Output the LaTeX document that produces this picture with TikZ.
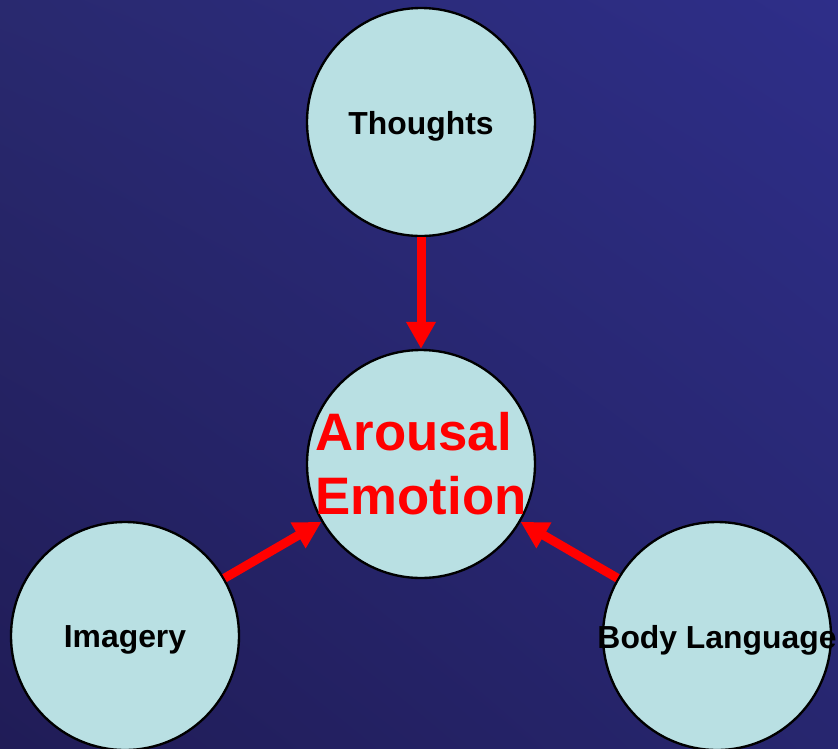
\documentclass[tikz,border=0pt]{standalone}
\usepackage{fontspec}
\setmainfont{Liberation Sans}
\usetikzlibrary{arrows.meta,positioning,shadings}

\definecolor{bgul}{HTML}{29296F}
\definecolor{bgur}{HTML}{2E2E89}
\definecolor{bgll}{HTML}{201C57}
\definecolor{bglr}{HTML}{27266F}
\definecolor{bubblefill}{HTML}{B9E0E3}

\begin{document}
\begin{tikzpicture}[
    x=0.03cm, y=-0.03cm,
    every node/.style={font=\fontsize{27.2}{30}\selectfont\bfseries},
    every label/.style={yshift=-0.12cm},
    bubble/.style={draw=black, circle, line width=2pt, fill=bubblefill, minimum size=6.84cm, inner sep=0pt},
    big/.style={font=\fontsize{45}{54.4}\selectfont\bfseries, text=red, align=left, yshift=0.12cm},
    arr/.style={-{Triangle[length=0.81cm, width=0.84cm]}, red, line width=0.27cm}
]

% Background
\shade[upper left=bgul, upper right=bgur, lower left=bgll, lower right=bglr]
    (0,0) rectangle (838,748);
\useasboundingbox (0,0) rectangle (838,748);

% Circles
\node[bubble, label={center:Thoughts}] (thoughts) at (421,122) {};
\node[bubble, label={[big]center:Arousal\\Emotion}] (arousal) at (421,464) {};
\node[bubble, label={center:Imagery}] (imagery) at (125,636) {};
\node[bubble, label={center:Body Language}] (body) at (717,636) {};

% Arrows
\draw[arr] (thoughts) -- (arousal);
\draw[arr] (imagery) -- (arousal);
\draw[arr] (body) -- (arousal);

\end{tikzpicture}
\end{document}
